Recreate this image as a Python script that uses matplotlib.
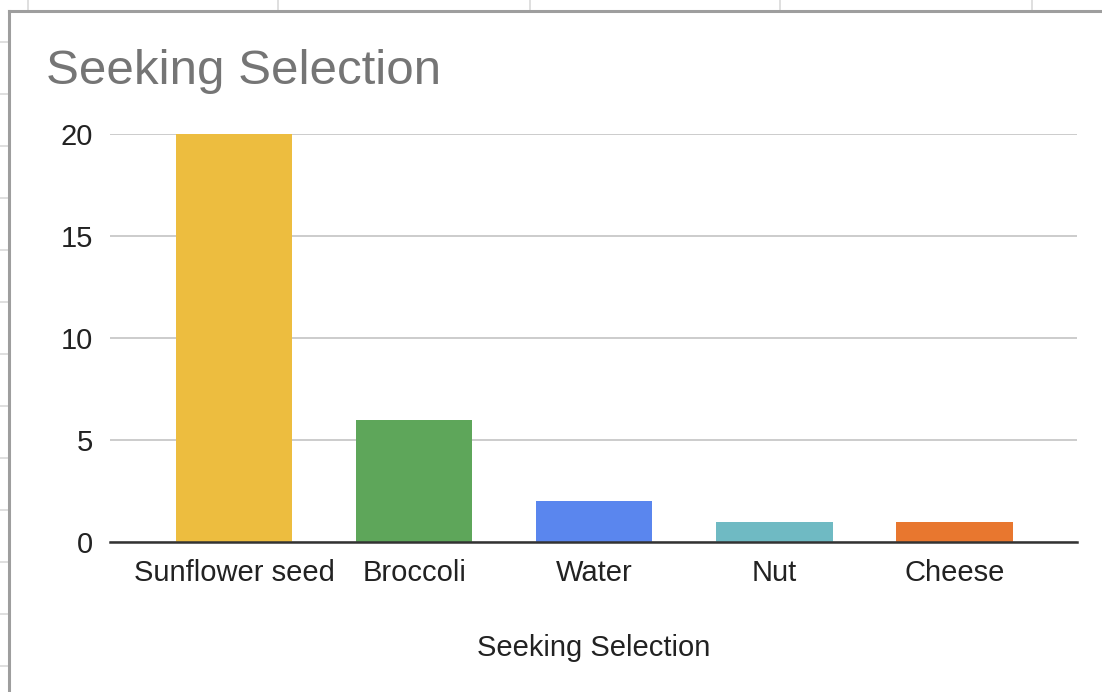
import matplotlib
matplotlib.use("Agg")
import matplotlib.pyplot as plt
from matplotlib.lines import Line2D

categories = ["Sunflower seed", "Broccoli", "Water", "Nut", "Cheese"]
values = [20, 6, 2, 1, 1]
colors = ["#EDBD3F", "#5EA65A", "#5A86EE", "#6FBAC3", "#E8772F"]
yticks = [0, 5, 10, 15, 20]
title = "Seeking Selection"
xlabel = "Seeking Selection"

plt.rcParams['font.family'] = ['Liberation Sans', 'DejaVu Sans']

W, H = 1102, 692
fig = plt.figure(figsize=(W / 100, H / 100), dpi=100)
fig.patch.set_facecolor("white")

# spreadsheet background grid fragments
for x in [28, 278, 530, 780, 1032]:
    fig.add_artist(Line2D([x / W, x / W], [1, 1 - 10 / H], color="#d9d9d9", lw=1.2))
for y in range(42, 692, 52):
    fig.add_artist(Line2D([0, 9 / W], [1 - y / H, 1 - y / H], color="#d9d9d9", lw=1.2))
# chart frame
fig.add_artist(Line2D([9 / W, 9 / W], [0, 1 - 11 / H], color="#9e9e9e", lw=2.2))
fig.add_artist(Line2D([9 / W, 1], [1 - 11 / H, 1 - 11 / H], color="#9e9e9e", lw=2.2))

left, right = 110 / W, 1077 / W
bottom, top = 1 - 542 / H, 1 - 134 / H
ax = fig.add_axes([left, bottom, right - left, top - bottom])
x = list(range(len(categories)))
ax.bar(x, values, width=0.645, color=colors, zorder=3)
ax.set_xlim(-0.69, 4.68)
ax.set_ylim(0, 20)
ax.set_yticks(yticks)
ax.set_yticklabels([str(v) for v in yticks])
ax.set_xticks(x)
ax.set_xticklabels(categories)
ax.tick_params(axis="both", length=0, labelsize=21, labelcolor="#222222")
ax.tick_params(axis="y", pad=12)
ax.tick_params(axis="x", pad=12)
ax.grid(axis="y", color="#cccccc", lw=1.4, zorder=0)
ax.set_axisbelow(True)
for s in ["top", "right", "left"]:
    ax.spines[s].set_visible(False)
ax.spines["bottom"].set_color("#333333")
ax.spines["bottom"].set_linewidth(1.8)
ax.spines["bottom"].set_zorder(4)
ax.set_xlabel(xlabel, fontsize=21, color="#222222", labelpad=34)

fig.text(46 / W, 1 - 72 / H, title, fontsize=35.5, color="#757575", va="center", ha="left")

fig.savefig("out.png", dpi=100, facecolor="white")
